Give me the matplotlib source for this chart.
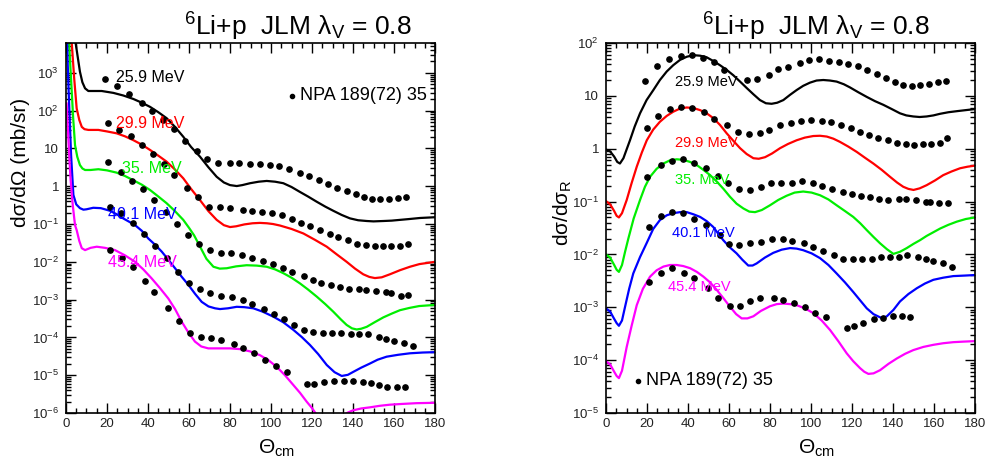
import numpy as np
import matplotlib
matplotlib.use("Agg")
import matplotlib.pyplot as plt
from matplotlib.ticker import FixedLocator, MultipleLocator, LogLocator, NullFormatter

plt.rcParams['font.family'] = ['Liberation Sans', 'DejaVu Sans']
plt.rcParams['mathtext.fontset'] = 'custom'
plt.rcParams['mathtext.rm'] = 'Liberation Sans'
plt.rcParams['mathtext.it'] = 'Liberation Sans:italic'
plt.rcParams['mathtext.default'] = 'regular'

energies = ['25.9 MeV', '29.9 MeV', '35. MeV', '40.1 MeV', '45.4 MeV']
colors = ['black', '#ff0000', '#00ee00', '#0000ff', '#ff00ff']

# ---- left panel: dsigma/dOmega (mb/sr), values stored as log10 ----
# data points
dL1_th = [19.2, 25.0, 30.8, 36.9, 42.1, 47.5, 52.9, 58.2, 63.7, 69.0, 74.2, 79.8, 84.5, 89.6, 94.6, 99.4,
          104.0, 108.8, 114.1, 118.7, 123.4, 127.9, 132.2, 136.9, 141.4, 145.5, 149.3, 153.4, 157.8, 162.1, 166.0]
dL1_lg = [2.85, 2.66, 2.43, 2.20, 1.99, 1.76, 1.51, 1.20, 0.94, 0.73, 0.62, 0.61, 0.61, 0.60, 0.58, 0.56,
          0.53, 0.45, 0.35, 0.26, 0.16, 0.05, -0.04, -0.13, -0.21, -0.29, -0.33, -0.34, -0.34, -0.30, -0.28]
dL2_th = [20.3, 25.8, 31.7, 36.9, 42.6, 47.8, 52.9, 59.2, 64.5, 69.8, 75.1, 80.0, 86.2, 90.6, 95.5, 100.3,
          105.2, 110.1, 114.5, 119.0, 123.9, 128.6, 132.8, 137.4, 142.0, 146.3, 150.5, 154.5, 158.5, 162.9, 166.6]
dL2_lg = [1.68, 1.50, 1.33, 1.09, 0.85, 0.58, 0.30, -0.04, -0.29, -0.56, -0.56, -0.58, -0.63, -0.65, -0.67, -0.70,
          -0.77, -0.87, -0.96, -1.05, -1.17, -1.27, -1.34, -1.42, -1.52, -1.56, -1.58, -1.58, -1.59, -1.58, -1.53]
dL3_th = [20.3, 26.8, 32.4, 37.7, 43.1, 48.8, 54.0, 59.4, 64.9, 70.2, 75.6, 80.7, 85.7, 90.9, 95.9, 101.0,
          105.8, 110.3, 116.1, 120.5, 124.5, 129.3, 133.7, 137.9, 143.1, 146.2, 151.4, 156.0, 158.7, 163.4, 167.0]
dL3_lg = [0.63, 0.38, 0.15, -0.07, -0.37, -0.67, -1.01, -1.29, -1.53, -1.69, -1.76, -1.77, -1.83, -1.91, -1.97, -2.07,
          -2.17, -2.28, -2.38, -2.48, -2.55, -2.60, -2.66, -2.71, -2.73, -2.75, -2.77, -2.81, -2.82, -2.90, -2.89]
dL4_th = [21.5, 26.8, 32.5, 38.2, 43.2, 49.1, 54.8, 60.2, 65.4, 70.2, 75.7, 81.2, 86.2, 90.9, 96.7, 101.5,
          106.3, 111.2, 116.1, 120.6, 125.5, 129.9, 134.0, 139.0, 143.1, 147.2, 152.7, 156.2, 159.9, 164.7, 169.1]
dL4_lg = [-0.54, -0.72, -0.96, -1.26, -1.57, -1.90, -2.26, -2.57, -2.72, -2.82, -2.90, -2.93, -3.02, -3.12, -3.26, -3.38,
          -3.52, -3.67, -3.80, -3.85, -3.89, -3.89, -3.89, -3.91, -3.91, -3.91, -4.00, -4.05, -4.10, -4.16, -4.22]
dL5_th = [21.5, 27.2, 32.8, 38.5, 43.1, 49.6, 55.0, 60.5, 65.9, 70.6, 75.4, 82.1, 86.5, 91.9, 97.1, 102.3,
          107.7, 117.7, 121.0, 126.0, 130.9, 135.6, 140.0, 144.7, 148.7, 152.7, 156.7, 161.3, 165.6]
dL5_lg = [-1.69, -1.91, -2.15, -2.50, -2.81, -3.23, -3.57, -3.88, -4.00, -4.02, -4.08, -4.18, -4.29, -4.42, -4.60, -4.75,
          -4.91, -5.22, -5.22, -5.18, -5.16, -5.15, -5.15, -5.17, -5.21, -5.25, -5.30, -5.32, -5.31]

# calculations
cL1_th = [4.0, 4.7, 6.8, 8.0, 9.3, 10.9, 14.6, 17.4, 23.1, 28.0, 32.8, 37.0, 41.0, 45.0, 49.1, 53.0, 57.2, 61.0,
          65.4, 69.5, 73.5, 77.0, 80.0, 83.3, 86.0, 89.8, 94.0, 97.9, 102.0, 106.0, 110.0, 114.1, 118.0, 122.3,
          126.5, 130.4, 134.5, 138.5, 142.5, 146.7, 150.0, 154.8, 158.9, 162.9, 167.0, 172.7, 180.0]
cL1_lg = [4.1, 3.79, 3.03, 2.75, 2.59, 2.52, 2.52, 2.52, 2.47, 2.40, 2.31, 2.21, 2.10, 1.96, 1.80, 1.58, 1.31, 1.04,
          0.78, 0.50, 0.25, 0.10, 0.03, 0.005, 0.03, 0.08, 0.12, 0.14, 0.12, 0.08, -0.02, -0.15, -0.27, -0.41,
          -0.54, -0.65, -0.76, -0.85, -0.90, -0.92, -0.93, -0.92, -0.91, -0.89, -0.87, -0.84, -0.82]
cL2_th = [1.5, 2.8, 4.0, 5.2, 6.5, 7.7, 9.0, 10.9, 15.8, 20.0, 24.7, 28.8, 32.8, 37.0, 41.0, 45.0, 49.1, 53.0,
          57.2, 61.0, 65.4, 69.5, 73.5, 77.0, 80.0, 83.0, 87.0, 91.0, 94.6, 98.0, 101.0, 104.4, 110.0, 115.8,
          121.5, 127.2, 132.0, 136.9, 141.0, 145.0, 148.0, 150.7, 154.0, 158.0, 163.0, 167.8, 172.4, 180.0]
cL2_lg = [4.1, 3.79, 2.85, 2.06, 1.75, 1.57, 1.51, 1.49, 1.49, 1.45, 1.40, 1.32, 1.22, 1.10, 0.96, 0.81, 0.65, 0.45,
          0.21, -0.07, -0.37, -0.66, -0.89, -1.03, -1.08, -1.06, -1.01, -0.98, -0.97, -0.98, -1.00, -1.04, -1.13, -1.25,
          -1.42, -1.60, -1.80, -2.00, -2.18, -2.33, -2.40, -2.43, -2.41, -2.33, -2.22, -2.13, -2.06, -2.00]
cL3_th = [0.8, 1.5, 2.5, 3.5, 4.4, 5.5, 6.8, 8.0, 9.3, 12.0, 15.8, 20.0, 24.7, 28.8, 32.8, 37.0, 41.0, 45.0,
          49.1, 53.0, 57.2, 60.0, 62.5, 65.4, 68.5, 71.9, 75.0, 78.4, 83.0, 88.1, 93.0, 97.9, 102.0, 106.0, 110.0,
          114.1, 118.0, 122.3, 126.5, 130.4, 134.0, 136.9, 139.5, 141.8, 144.0, 146.7, 150.5, 154.8, 158.9, 162.9,
          167.5, 172.3, 180.0]
cL3_lg = [4.1, 3.79, 2.8, 1.8, 1.09, 0.78, 0.56, 0.47, 0.43, 0.43, 0.45, 0.42, 0.36, 0.27, 0.16, 0.04, -0.10, -0.27,
          -0.45, -0.65, -0.89, -1.10, -1.30, -1.60, -1.92, -2.13, -2.18, -2.17, -2.12, -2.09, -2.10, -2.13, -2.20,
          -2.30, -2.42, -2.57, -2.73, -2.92, -3.12, -3.32, -3.52, -3.67, -3.76, -3.79, -3.77, -3.72, -3.60, -3.47,
          -3.37, -3.28, -3.22, -3.17, -3.14]
cL4_th = [0.5, 0.8, 1.5, 2.5, 3.6, 5.0, 6.8, 8.5, 10.0, 13.3, 17.0, 21.5, 25.0, 27.2, 30.5, 33.7, 37.0, 40.1,
          43.5, 46.7, 50.0, 53.2, 56.5, 59.7, 63.0, 66.2, 69.5, 72.7, 75.1, 79.0, 83.3, 87.0, 91.4, 96.0, 101.1,
          106.0, 110.9, 115.0, 119.0, 123.0, 127.2, 131.0, 134.5, 137.5, 140.2, 144.0, 148.3, 152.0, 156.4, 162.0,
          167.8, 174.0, 180.0]
cL4_lg = [3.9, 3.29, 2.2, 0.8, -0.23, -0.48, -0.58, -0.62, -0.61, -0.57, -0.58, -0.65, -0.75, -0.83, -0.93, -1.03,
          -1.18, -1.38, -1.55, -1.73, -1.95, -2.17, -2.40, -2.61, -2.85, -3.06, -3.18, -3.23, -3.25, -3.23, -3.19,
          -3.20, -3.23, -3.32, -3.45, -3.60, -3.80, -3.99, -4.20, -4.44, -4.73, -4.92, -5.02, -4.99, -4.91, -4.80,
          -4.69, -4.59, -4.51, -4.46, -4.42, -4.40, -4.39]
cL5_th = [0.3, 1.2, 2.2, 3.3, 4.4, 5.2, 6.5, 7.7, 9.3, 12.0, 15.0, 19.0, 23.9, 28.8, 33.7, 37.7, 41.8, 45.9,
          49.9, 53.2, 56.4, 59.7, 62.9, 66.0, 69.4, 75.0, 80.0, 84.9, 89.8, 94.6, 98.7, 102.8, 106.8, 110.9, 114.2,
          117.4, 120.0, 122.3, 124.0, np.nan, 137.0, 140.0, 144.0, 148.3, 153.0, 158.0, 164.0, 171.0, 180.0]
cL5_lg = [2.19, 1.2, 0.2, -0.5, -1.03, -1.16, -1.45, -1.64, -1.69, -1.63, -1.60, -1.63, -1.69, -1.83, -2.00, -2.20,
          -2.44, -2.70, -2.97, -3.25, -3.58, -3.87, -4.11, -4.24, -4.29, -4.29, -4.29, -4.31, -4.37, -4.47, -4.60,
          -4.78, -5.00, -5.26, -5.47, -5.70, -5.87, -6.05, -6.2, np.nan, -6.0, -5.93, -5.88, -5.85, -5.81, -5.78,
          -5.76, -5.74, -5.73]

# ---- right panel: ratio to Rutherford, log10 ----
dR1_th = [19.0, 24.7, 30.6, 36.4, 41.8, 47.5, 52.5, 57.7, 68.6, 73.8, 79.5, 84.0, 88.6, 94.5, 99.2, 103.8,
          108.8, 113.7, 118.0, 122.8, 127.3, 132.0, 136.4, 141.1, 145.0, 149.1, 153.2, 157.7, 162.1, 165.9]
dR1_lg = [1.29, 1.57, 1.69, 1.76, 1.77, 1.72, 1.65, 1.49, 1.30, 1.31, 1.39, 1.51, 1.55, 1.63, 1.68, 1.70,
          1.66, 1.65, 1.61, 1.57, 1.49, 1.41, 1.33, 1.27, 1.21, 1.19, 1.20, 1.22, 1.26, 1.29]
dR2_th = [20.1, 25.5, 31.2, 36.4, 42.1, 47.8, 52.5, 58.9, 64.5, 69.9, 75.1, 79.7, 84.9, 90.1, 95.0, 99.9,
          105.2, 109.8, 114.5, 119.4, 123.9, 128.4, 132.8, 137.4, 141.8, 146.2, 150.2, 154.5, 158.5, 162.9, 166.5]
dR2_lg = [0.39, 0.62, 0.75, 0.78, 0.77, 0.69, 0.56, 0.44, 0.31, 0.28, 0.30, 0.35, 0.44, 0.48, 0.53, 0.54,
          0.53, 0.50, 0.45, 0.40, 0.32, 0.26, 0.21, 0.16, 0.11, 0.08, 0.07, 0.08, 0.09, 0.11, 0.20]
dR3_th = [20.1, 26.8, 32.4, 37.4, 43.1, 48.6, 54.5, 59.7, 64.9, 70.2, 75.6, 80.5, 85.4, 90.6, 95.8, 101.1,
          105.5, 110.4, 115.8, 120.2, 124.4, 128.8, 133.3, 137.4, 143.1, 146.2, 151.1, 156.0, 158.0, 162.4, 167.0]
dR3_lg = [-0.53, -0.31, -0.23, -0.20, -0.27, -0.37, -0.52, -0.65, -0.76, -0.79, -0.72, -0.65, -0.64, -0.64, -0.62, -0.64,
          -0.70, -0.76, -0.81, -0.86, -0.89, -0.92, -0.95, -0.97, -0.95, -0.96, -0.97, -1.00, -1.01, -1.03, -1.03]
dR4_th = [21.1, 26.8, 32.4, 37.7, 43.1, 48.6, 55.6, 60.2, 65.0, 70.2, 75.5, 81.1, 86.2, 90.9, 96.6, 101.1,
          106.0, 111.2, 115.8, 120.3, 125.0, 129.6, 134.0, 138.5, 142.9, 146.7, 152.4, 156.1, 159.4, 164.5, 168.6]
dR4_lg = [-1.48, -1.27, -1.20, -1.22, -1.33, -1.45, -1.64, -1.80, -1.82, -1.79, -1.77, -1.71, -1.71, -1.74, -1.79, -1.85,
          -1.93, -2.02, -2.09, -2.09, -2.09, -2.09, -2.05, -2.05, -2.04, -2.02, -2.05, -2.09, -2.12, -2.17, -2.23]
dR5_th = [21.1, 26.8, 32.4, 38.2, 42.9, 49.6, 54.8, 60.5, 65.4, 70.2, 75.1, 82.0, 86.2, 91.7, 97.1, 102.0,
          107.3, 117.7, 121.0, 125.5, 130.7, 135.3, 139.8, 144.5, 148.3]
dR5_lg = [-2.53, -2.35, -2.26, -2.35, -2.45, -2.63, -2.83, -2.98, -2.97, -2.88, -2.83, -2.82, -2.86, -2.91, -2.99, -3.10,
          -3.19, -3.40, -3.35, -3.29, -3.23, -3.20, -3.17, -3.16, -3.18]

cR1_th = [0.3, 2.0, 4.0, 5.5, 6.8, 8.5, 10.0, 11.7, 14.0, 16.6, 19.8, 23.1, 26.3, 29.6, 32.8, 36.1, 39.4, 42.6,
          45.9, 49.1, 52.3, 55.6, 58.9, 62.1, 65.4, 68.6, 71.9, 75.1, 78.0, 80.8, 83.5, 86.5, 89.8, 93.0, 96.2,
          99.5, 102.7, 106.0, 109.2, 112.5, 116.0, 119.0, 123.0, 127.2, 131.2, 135.3, 139.4, 143.4, 146.5, 149.9,
          153.0, 156.4, 159.7, 162.9, 167.0, 171.1, 175.5, 180.0]
cR1_lg = [-0.02, -0.05, -0.15, -0.25, -0.28, -0.18, -0.02, 0.16, 0.42, 0.67, 0.92, 1.11, 1.30, 1.46, 1.58, 1.68,
          1.74, 1.77, 1.76, 1.73, 1.66, 1.58, 1.49, 1.39, 1.27, 1.15, 1.03, 0.92, 0.86, 0.85, 0.87, 0.92, 1.02,
          1.11, 1.19, 1.25, 1.29, 1.30, 1.29, 1.27, 1.22, 1.16, 1.07, 0.98, 0.90, 0.83, 0.75, 0.67, 0.63, 0.61,
          0.60, 0.61, 0.63, 0.66, 0.69, 0.71, 0.73, 0.75]
cR2_th = [0.3, 2.0, 4.0, 5.2, 6.3, 7.8, 10.1, 12.5, 15.0, 17.5, 19.9, 23.0, 26.3, 29.6, 32.8, 36.1, 39.4, 42.6,
          45.9, 49.1, 52.3, 55.6, 58.9, 62.1, 65.4, 68.6, 71.9, 74.5, 77.6, 81.0, 84.9, 88.8, 93.0, 97.0, 101.1,
          104.4, 107.7, 110.9, 114.1, 118.2, 122.3, 126.3, 130.4, 134.5, 138.5, 142.0, 145.0, 147.5, 150.0, 153.0,
          156.4, 160.5, 164.5, 168.6, 172.7, 176.4, 180.0]
cR2_lg = [-1.0, -1.05, -1.18, -1.27, -1.30, -1.22, -0.97, -0.65, -0.34, -0.07, 0.16, 0.36, 0.51, 0.62, 0.70, 0.76,
          0.78, 0.77, 0.73, 0.67, 0.58, 0.45, 0.29, 0.15, 0.01, -0.10, -0.18, -0.19, -0.16, -0.09, 0.01, 0.09,
          0.16, 0.21, 0.24, 0.245, 0.23, 0.19, 0.13, 0.04, -0.06, -0.17, -0.28, -0.40, -0.53, -0.64, -0.72, -0.76,
          -0.78, -0.75, -0.69, -0.60, -0.50, -0.43, -0.37, -0.34, -0.32]
cR3_th = [0.3, 2.0, 4.0, 5.2, 6.3, 7.8, 9.3, 10.9, 13.5, 16.6, 19.0, 21.5, 24.7, 28.0, 31.2, 34.5, 37.7, 41.0,
          44.3, 47.5, 50.8, 54.0, 57.3, 60.5, 63.7, 67.0, 69.9, 72.7, 76.0, 80.0, 84.0, 88.1, 92.0, 96.2, 100.3,
          104.4, 108.5, 112.5, 116.6, 120.6, 124.0, 127.2, 130.5, 133.7, 137.0, 140.2, 143.4, 146.7, 150.0, 153.2,
          156.4, 159.7, 163.0, 167.0, 171.1, 175.5, 180.0]
cR3_lg = [-2.01, -2.06, -2.20, -2.29, -2.33, -2.20, -1.95, -1.70, -1.32, -0.97, -0.72, -0.53, -0.38, -0.28, -0.22,
          -0.20, -0.21, -0.25, -0.31, -0.40, -0.50, -0.62, -0.76, -0.91, -1.04, -1.13, -1.19, -1.20, -1.16, -1.07,
          -0.97, -0.89, -0.83, -0.81, -0.83, -0.88, -0.96, -1.07, -1.18, -1.29, -1.41, -1.54, -1.67, -1.79, -1.90,
          -1.99, -1.95, -1.88, -1.80, -1.73, -1.65, -1.58, -1.51, -1.44, -1.38, -1.33, -1.30]
cR4_th = [0.3, 2.0, 4.0, 5.2, 6.3, 7.8, 9.3, 11.3, 13.3, 16.6, 19.9, 23.0, 26.3, 29.6, 32.8, 36.1, 39.4, 42.6,
          45.9, 49.1, 52.3, 55.0, 57.2, 60.5, 63.7, 66.5, 69.4, 71.5, 73.5, 77.5, 81.6, 85.7, 89.8, 93.0, 96.2,
          100.3, 104.4, 108.5, 112.5, 116.6, 120.6, 124.0, 127.2, 130.5, 133.7, 135.5, 137.0, 140.2, 143.4, 147.5,
          151.6, 155.6, 159.7, 164.5, 169.4, 175.0, 180.0]
cR4_lg = [-3.03, -3.08, -3.22, -3.30, -3.35, -3.25, -2.99, -2.65, -2.36, -2.05, -1.78, -1.52, -1.35, -1.26, -1.22,
          -1.20, -1.20, -1.24, -1.29, -1.37, -1.48, -1.62, -1.73, -1.87, -1.98, -2.10, -2.21, -2.21, -2.17, -2.06,
          -1.97, -1.91, -1.88, -1.89, -1.92, -1.98, -2.07, -2.20, -2.36, -2.53, -2.71, -2.87, -3.02, -3.13, -3.19,
          -3.20, -3.17, -3.05, -2.89, -2.75, -2.64, -2.55, -2.48, -2.44, -2.41, -2.40, -2.39]
cR5_th = [0.3, 2.0, 4.0, 5.2, 6.3, 7.8, 10.1, 12.5, 15.0, 18.0, 21.5, 24.7, 28.0, 31.2, 34.5, 37.7, 41.0, 44.3,
          47.5, 50.8, 54.0, 57.3, 60.5, 63.5, 66.2, 69.0, 71.9, 75.5, 80.0, 83.3, 86.5, 89.8, 93.0, 97.0, 101.1,
          105.2, 109.3, 113.3, 117.4, 120.6, 123.9, 126.0, 128.0, 130.5, 133.7, 137.8, 141.8, 145.9, 149.9, 154.8,
          159.7, 164.5, 169.4, 174.2, 180.0]
cR5_lg = [-4.03, -4.08, -4.22, -4.30, -4.34, -4.20, -3.75, -3.35, -2.96, -2.65, -2.42, -2.30, -2.23, -2.20, -2.20,
          -2.22, -2.26, -2.33, -2.42, -2.53, -2.67, -2.83, -2.99, -3.13, -3.21, -3.21, -3.17, -3.07, -2.98, -2.94,
          -2.93, -2.94, -2.96, -3.02, -3.11, -3.25, -3.43, -3.64, -3.87, -4.02, -4.15, -4.22, -4.26, -4.25, -4.19,
          -4.07, -3.97, -3.88, -3.81, -3.75, -3.71, -3.68, -3.66, -3.65, -3.64]

# label positions (theta, log10)
labL_th = [24.2, 24.4, 27.2, 20.5, 20.5]
labL_lg = [2.89, 1.67, 0.48, -0.76, -2.03]
labR_th = [33.7, 33.7, 33.7, 32.1, 30.2]
labR_lg = [1.26, 0.11, -0.59, -1.59, -2.62]

title = '$^{6}$Li+p  JLM λ$_{V}$ = 0.8'
ref_label = 'NPA 189(72) 35'

fig = plt.figure(figsize=(9.87, 4.62), dpi=100)
axL = fig.add_axes([66 / 987, 49 / 462, 369 / 987, 370 / 462])
axR = fig.add_axes([606 / 987, 49 / 462, 369 / 987, 370 / 462])


def p10(a):
    return np.power(10.0, np.asarray(a, dtype=float))


def log_fmt(v, pos=None):
    e = int(round(np.log10(v)))
    if e == 0:
        return '1'
    if e == 1:
        return '10'
    return '10$^{%d}$' % e


def style(ax, lo, hi, emin, emax):
    ax.set_xlim(0, 180)
    ax.set_yscale('log')
    ax.set_ylim(lo, hi)
    ax.xaxis.set_major_locator(MultipleLocator(20))
    ax.xaxis.set_minor_locator(MultipleLocator(5))
    ticks = [10.0 ** e for e in range(emin, emax + 1)]
    ax.yaxis.set_major_locator(FixedLocator(ticks))
    ax.set_yticklabels([log_fmt(t) for t in ticks])
    ax.yaxis.set_minor_locator(LogLocator(base=10, subs=np.arange(2, 10), numticks=30))
    ax.yaxis.set_minor_formatter(NullFormatter())
    ax.tick_params(which='both', direction='in', top=True, right=True, width=1.0,
                   labelsize=9.5, labelcolor='#222222')
    ax.tick_params(which='major', length=7)
    ax.tick_params(which='minor', length=3.5)
    ax.tick_params(axis='y', pad=5)
    for s in ax.spines.values():
        s.set_linewidth(1.2)
    ax.set_xlabel('Θ$_{cm}$', fontsize=15, x=0.57, labelpad=6)


dL_th = [dL1_th, dL2_th, dL3_th, dL4_th, dL5_th]
dL_lg = [dL1_lg, dL2_lg, dL3_lg, dL4_lg, dL5_lg]
cL_th = [cL1_th, cL2_th, cL3_th, cL4_th, cL5_th]
cL_lg = [cL1_lg, cL2_lg, cL3_lg, cL4_lg, cL5_lg]
dR_th = [dR1_th, dR2_th, dR3_th, dR4_th, dR5_th]
dR_lg = [dR1_lg, dR2_lg, dR3_lg, dR4_lg, dR5_lg]
cR_th = [cR1_th, cR2_th, cR3_th, cR4_th, cR5_th]
cR_lg = [cR1_lg, cR2_lg, cR3_lg, cR4_lg, cR5_lg]

for i in range(5):
    axL.plot(cL_th[i], p10(cL_lg[i]), color=colors[i], lw=1.6, zorder=2)
    axL.plot(dL_th[i], p10(dL_lg[i]), 'o', color='black', ms=3.8, zorder=3)
    axL.text(labL_th[i], 10 ** labL_lg[i], energies[i], color=colors[i], fontsize=11.5,
             ha='left', va='center', zorder=4)
    axR.plot(cR_th[i], p10(cR_lg[i]), color=colors[i], lw=1.6, zorder=2)
    axR.plot(dR_th[i], p10(dR_lg[i]), 'o', color='black', ms=3.8, zorder=3)
    axR.text(labR_th[i], 10 ** labR_lg[i], energies[i], color=colors[i], fontsize=10.5,
             ha='left', va='center', zorder=4)

style(axL, 1e-6, 10 ** 3.79, -6, 3)
style(axR, 1e-5, 1e2, -5, 2)

axL.plot([110], [10 ** 2.39], 'o', color='black', ms=3)
axL.text(114.1, 10 ** 2.39, ref_label, fontsize=13, ha='left', va='center')
axR.plot([15.5], [10 ** -4.39], 'o', color='black', ms=3)
axR.text(19.5, 10 ** -4.39, ref_label, fontsize=13, ha='left', va='center')

# y titles placed where they sit in the picture
fig.text(21 / 987, 1 - 162 / 462, 'dσ/dΩ (mb/sr)', fontsize=15, rotation=90,
         ha='center', va='center')
fig.text(563 / 987, 1 - 213 / 462, 'dσ/dσ$_{R}$', fontsize=15, rotation=90,
         ha='center', va='center')

fig.text(298 / 987, 1 - 27 / 462, title, fontsize=19, ha='center', va='center')
fig.text(816 / 987, 1 - 27 / 462, title, fontsize=19, ha='center', va='center')

fig.savefig('out.png', dpi=100)
